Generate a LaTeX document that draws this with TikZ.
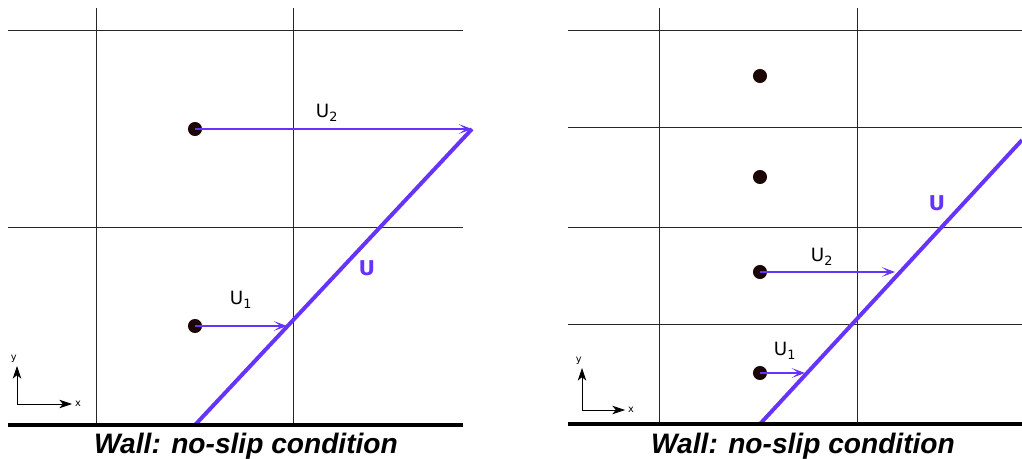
\documentclass[tikz,border=0pt]{standalone}
\usepackage{fontspec}
\setmainfont{DejaVu Sans}
\newfontfamily\wallfont{Liberation Sans}
\usetikzlibrary{arrows.meta,positioning}
\definecolor{velo}{RGB}{102,51,250}
\definecolor{dotc}{RGB}{28,6,6}
\newcommand{\wallcap}{\wallfont\bfseries\itshape\fontsize{20}{22}\selectfont Wall: no-slip condition}

\begin{document}
\begin{tikzpicture}[x=0.025cm,y=-0.025cm,>=Stealth,font=\fontsize{13}{15}\selectfont]
\tikzset{
  grid/.style={line width=0.6pt,black!85},
  wall/.style={line width=3pt,black},
  prof/.style={velo,line width=2.8pt},
  vel/.style={-{Stealth[length=9.5pt,width=7pt,inset=5pt]},velo,line width=0.8pt},
  ax/.style={-{Stealth[length=9pt,width=6pt,inset=2.5pt]},line width=0.5pt},
  axlab/.style={font=\fontsize{7}{8}\selectfont,inner sep=1pt},
  dot/.style={circle,fill=dotc,inner sep=0pt,minimum size=10pt},
  ulab/.style={velo,font=\bfseries\fontsize{14.5}{16}\selectfont}
}
\useasboundingbox (0,0) rectangle (1022,459);
% ---- left: coarse grid ----
\draw[grid] (8,30) -- (463,30);
\draw[grid] (8,227) -- (463,227);
\draw[grid] (96,8) -- (96,425);
\draw[grid] (293,8) -- (293,425);
% velocity profile
\coordinate (La) at (195,425);
\coordinate (Lb) at (472,129);
\draw[prof] (La) -- (Lb);
\node[ulab] (Lu) at (367,268) {U};
% cell centres and velocities
\node[dot] (Ld1) at (195,326) {};
\node[dot] (Ld2) at (195,129) {};
\coordinate (Le1) at (287,326);
\draw[vel] (Ld1.center) -- (Le1);
\draw[vel] (Ld2.center) -- (Lb);
\node (Lu1) at (241,300) {U\textsubscript{1}};
\node (Lu2) at (327,113) {U\textsubscript{2}};
% wall
\draw[wall] (8,425) -- (463,425);
\node[anchor=base] (Lwall) at (246,453) {\wallcap};
% axes
\coordinate (Lo) at (17,404);
\coordinate (Ly) at (17,366);
\coordinate (Lx) at (72,404);
\draw[ax] (Lo) -- (Ly);
\draw[ax] (Lo) -- (Lx);
\node[axlab,left=-1pt of Ly,yshift=5pt] (Lylab) {y};
\node[axlab,right=1pt of Lx] (Lxlab) {x};

% ---- right: fine grid ----
\foreach \yy in {30,127,227,324}{\draw[grid] (568,\yy) -- (1022,\yy);}
\draw[grid] (659,8) -- (659,424);
\draw[grid] (857,8) -- (857,424);
% velocity profile
\coordinate (Ra) at (760,424);
\coordinate (Rb) at (1022,140);
\draw[prof] (Ra) -- (Rb);
\node[ulab] (Ru) at (937,203) {U};
% cell centres and velocities
\foreach \yy/\nm in {76/Rd4,177/Rd3,272/Rd2,373/Rd1}{\node[dot] (\nm) at (760,\yy) {};}
\coordinate (Re1) at (805,373);
\coordinate (Re2) at (895,272);
\draw[vel] (Rd1.center) -- (Re1);
\draw[vel] (Rd2.center) -- (Re2);
\node (Ru1) at (785,351) {U\textsubscript{1}};
\node (Ru2) at (822,257) {U\textsubscript{2}};
% wall
\draw[wall] (568,424) -- (1022,424);
\node[anchor=base] (Rwall) at (803,453) {\wallcap};
% axes
\coordinate (Ro) at (582,410);
\coordinate (Ry) at (582,368);
\coordinate (Rx) at (625,410);
\draw[ax] (Ro) -- (Ry);
\draw[ax] (Ro) -- (Rx);
\node[axlab,left=-1pt of Ry,yshift=5pt] (Rylab) {y};
\node[axlab,right=1pt of Rx] (Rxlab) {x};
\end{tikzpicture}
\end{document}
